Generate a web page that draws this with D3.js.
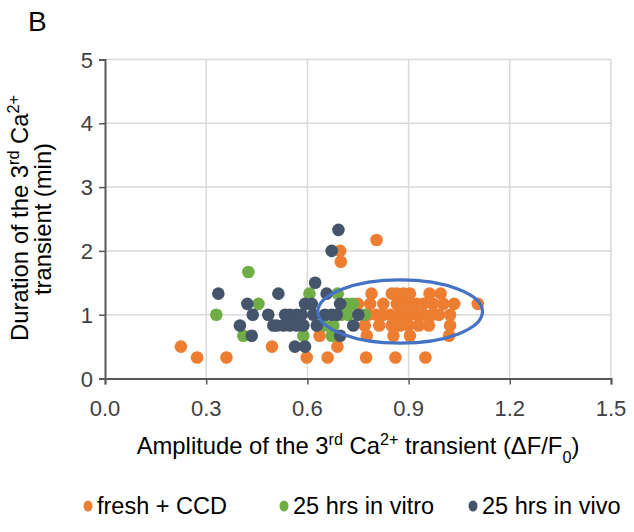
<!DOCTYPE html>
<html><head><meta charset="utf-8">
<script src="https://cdn.jsdelivr.net/npm/d3@7"></script>
<style>body{margin:0;background:#fff}svg{display:block}text{font-family:"Liberation Sans",Arial,sans-serif}</style>
</head><body><svg id="c" width="634" height="532"></svg>
<script>
const seriesNames = ["fresh + CCD", "25 hrs in vitro", "25 hrs in vivo"];
const seriesColors = ["#ED7D31", "#70AD47", "#44546A"];
const xTicks = [0.0, 0.3, 0.6, 0.9, 1.2, 1.5];
const yTicks = [0, 1, 2, 3, 4, 5];
const freshCCD = [
 [0.225,0.5],[0.273,0.33],[0.36,0.33],[0.495,0.5],[0.598,0.33],[0.636,0.67],[0.66,0.33],[0.689,0.5],
 [0.774,0.33],[0.861,0.33],[0.95,0.33],[1.02,0.67],[0.805,2.17],[0.697,2.0],[0.699,1.83],[1.105,1.17],
 [0.79,1.33],[0.85,1.33],[0.865,1.33],[0.885,1.33],[0.904,1.33],[0.962,1.33],[0.995,1.33],
 [0.75,1.17],[0.786,1.17],[0.825,1.17],[0.865,1.17],[0.885,1.17],[0.904,1.17],[0.924,1.17],[0.944,1.17],[0.973,1.17],[1.003,1.17],[1.035,1.17],
 [0.78,1.0],[0.805,1.0],[0.825,1.0],[0.845,1.0],[0.865,1.0],[0.884,1.0],[0.904,1.0],[0.924,1.0],[0.944,1.0],[0.969,1.0],[0.99,1.0],[1.023,1.0],
 [0.77,0.83],[0.813,0.83],[0.85,0.83],[0.875,0.83],[0.9,0.83],[0.93,0.83],[0.96,0.83],[1.023,0.83],
 [0.776,0.67],[0.855,0.67],[0.904,0.67]
];
const inVitro = [
 [0.33,1.0],[0.41,0.67],[0.425,1.67],[0.455,1.17],[0.588,0.67],[0.606,1.33],[0.608,1.17],[0.652,0.83],
 [0.672,0.67],[0.677,0.83],[0.69,1.33],[0.70,1.0],[0.717,1.17],[0.72,1.0],[0.77,1.0],[0.735,1.17]
];
const inVivo = [
 [0.336,1.33],[0.40,0.83],[0.422,1.17],[0.435,0.67],[0.438,1.0],[0.484,1.0],[0.499,0.83],[0.514,1.33],
 [0.509,0.83],[0.534,1.0],[0.529,0.83],[0.548,1.0],[0.548,0.83],[0.568,1.0],[0.568,0.83],[0.583,1.0],
 [0.588,0.83],[0.563,0.5],[0.593,0.5],[0.593,1.17],[0.613,1.17],[0.618,1.0],[0.623,1.5],[0.628,0.83],
 [0.652,1.0],[0.657,1.33],[0.672,1.0],[0.672,2.0],[0.692,2.33],[0.687,1.0],[0.697,1.17],[0.697,0.67],
 [0.736,0.83],[0.751,1.0]
];
const ellipseCenter = [0.875, 1.05];
const ellipseRadii = [0.244, 0.496];

const svg = d3.select("#c");
const x = d3.scaleLinear().domain([0,1.5]).range([105,611]);
const y = d3.scaleLinear().domain([0,5]).range([378.5,59.5]);
const TFS = 22;

// gridlines
svg.append("g").selectAll("line").data(yTicks.slice(1)).join("line")
 .attr("x1",105).attr("x2",611).attr("y1",d=>y(d)).attr("y2",d=>y(d))
 .attr("stroke","#D9D9D9").attr("stroke-width",1.5);
svg.append("g").selectAll("line").data(xTicks.slice(1)).join("line")
 .attr("y1",59.5).attr("y2",378.5).attr("x1",d=>x(d)).attr("x2",d=>x(d))
 .attr("stroke","#D9D9D9").attr("stroke-width",1.5);

// axes (lines via d3.axis, labels drawn as own text)
const gx = svg.append("g").attr("transform","translate(0,378.5)")
 .call(d3.axisBottom(x).tickValues(xTicks).tickSize(6).tickFormat(""));
const gy = svg.append("g").attr("transform","translate(105,0)")
 .call(d3.axisLeft(y).tickValues(yTicks).tickSize(6).tickFormat(""));
[gx,gy].forEach(g=>{
 g.select(".domain").attr("stroke","#595959").attr("stroke-width",2);
 g.selectAll(".tick line").attr("stroke","#595959").attr("stroke-width",1.5);
});
svg.append("g").selectAll("text").data(xTicks).join("text")
 .attr("x",d=>x(d)).attr("y",416).attr("text-anchor","middle")
 .style("font-size",TFS+"px").attr("fill","#404040").text(d=>d3.format(".1f")(d));
svg.append("g").selectAll("text").data(yTicks).join("text")
 .attr("x",93).attr("y",d=>y(d)+8).attr("text-anchor","end")
 .style("font-size",TFS+"px").attr("fill","#404040").text(d=>d3.format("d")(d));

// points
const allSeries = [freshCCD, inVitro, inVivo];
allSeries.forEach((s,i)=>{
 svg.append("g").selectAll("circle").data(s).join("circle")
  .attr("cx",d=>x(d[0])).attr("cy",d=>y(d[1])).attr("r",6.3).attr("fill",seriesColors[i]);
});

// ellipse
svg.append("ellipse")
 .attr("cx",x(ellipseCenter[0])).attr("cy",y(ellipseCenter[1]))
 .attr("rx",x(ellipseRadii[0])-x(0)).attr("ry",y(0)-y(ellipseRadii[1]))
 .attr("fill","none").attr("stroke","#4472C4").attr("stroke-width",3.2);

function rich(t, parts, fs){
 parts.forEach(p=>{
  const ts = t.append("tspan").text(p[0]);
  if(p[1]==="sup") ts.style("font-size",(fs*0.68)+"px").attr("baseline-shift","super");
  else if(p[1]==="sub") ts.style("font-size",(fs*0.68)+"px").attr("baseline-shift","sub");
 });
}
const FS = 23.8;
// letter
svg.append("text").attr("x",28).attr("y",31).style("font-size","28px").attr("fill","#000").text("B");

// x title
const xt = svg.append("text").attr("x",358).attr("y",454).attr("text-anchor","middle").style("font-size",FS+"px").attr("fill","#000");
rich(xt,[["Amplitude of the 3"],["rd","sup"],[" Ca"],["2+","sup"],[" transient (\u0394F/F"],["0","sub"],[")"]],FS);

// y title
const yt1 = svg.append("text").attr("transform","translate(28,218) rotate(-90)").attr("text-anchor","middle").style("font-size",FS+"px").attr("fill","#000");
rich(yt1,[["Duration of the 3"],["rd","sup"],[" Ca"],["2+","sup"]],FS);
const yt2 = svg.append("text").attr("transform","translate(51,219) rotate(-90)").attr("text-anchor","middle").style("font-size",FS+"px").attr("fill","#000");
rich(yt2,[["transient (min)"]],FS);

// legend
const legX = [88, 284, 473];
const lg = svg.append("g");
seriesNames.forEach((n,i)=>{
 lg.append("ellipse").attr("cx",legX[i]).attr("cy",506).attr("rx",4.5).attr("ry",5.5).attr("fill",seriesColors[i]);
 lg.append("text").attr("x",legX[i]+9).attr("y",514).style("font-size","23.5px").attr("fill","#000").text(n);
});
</script></body></html>
